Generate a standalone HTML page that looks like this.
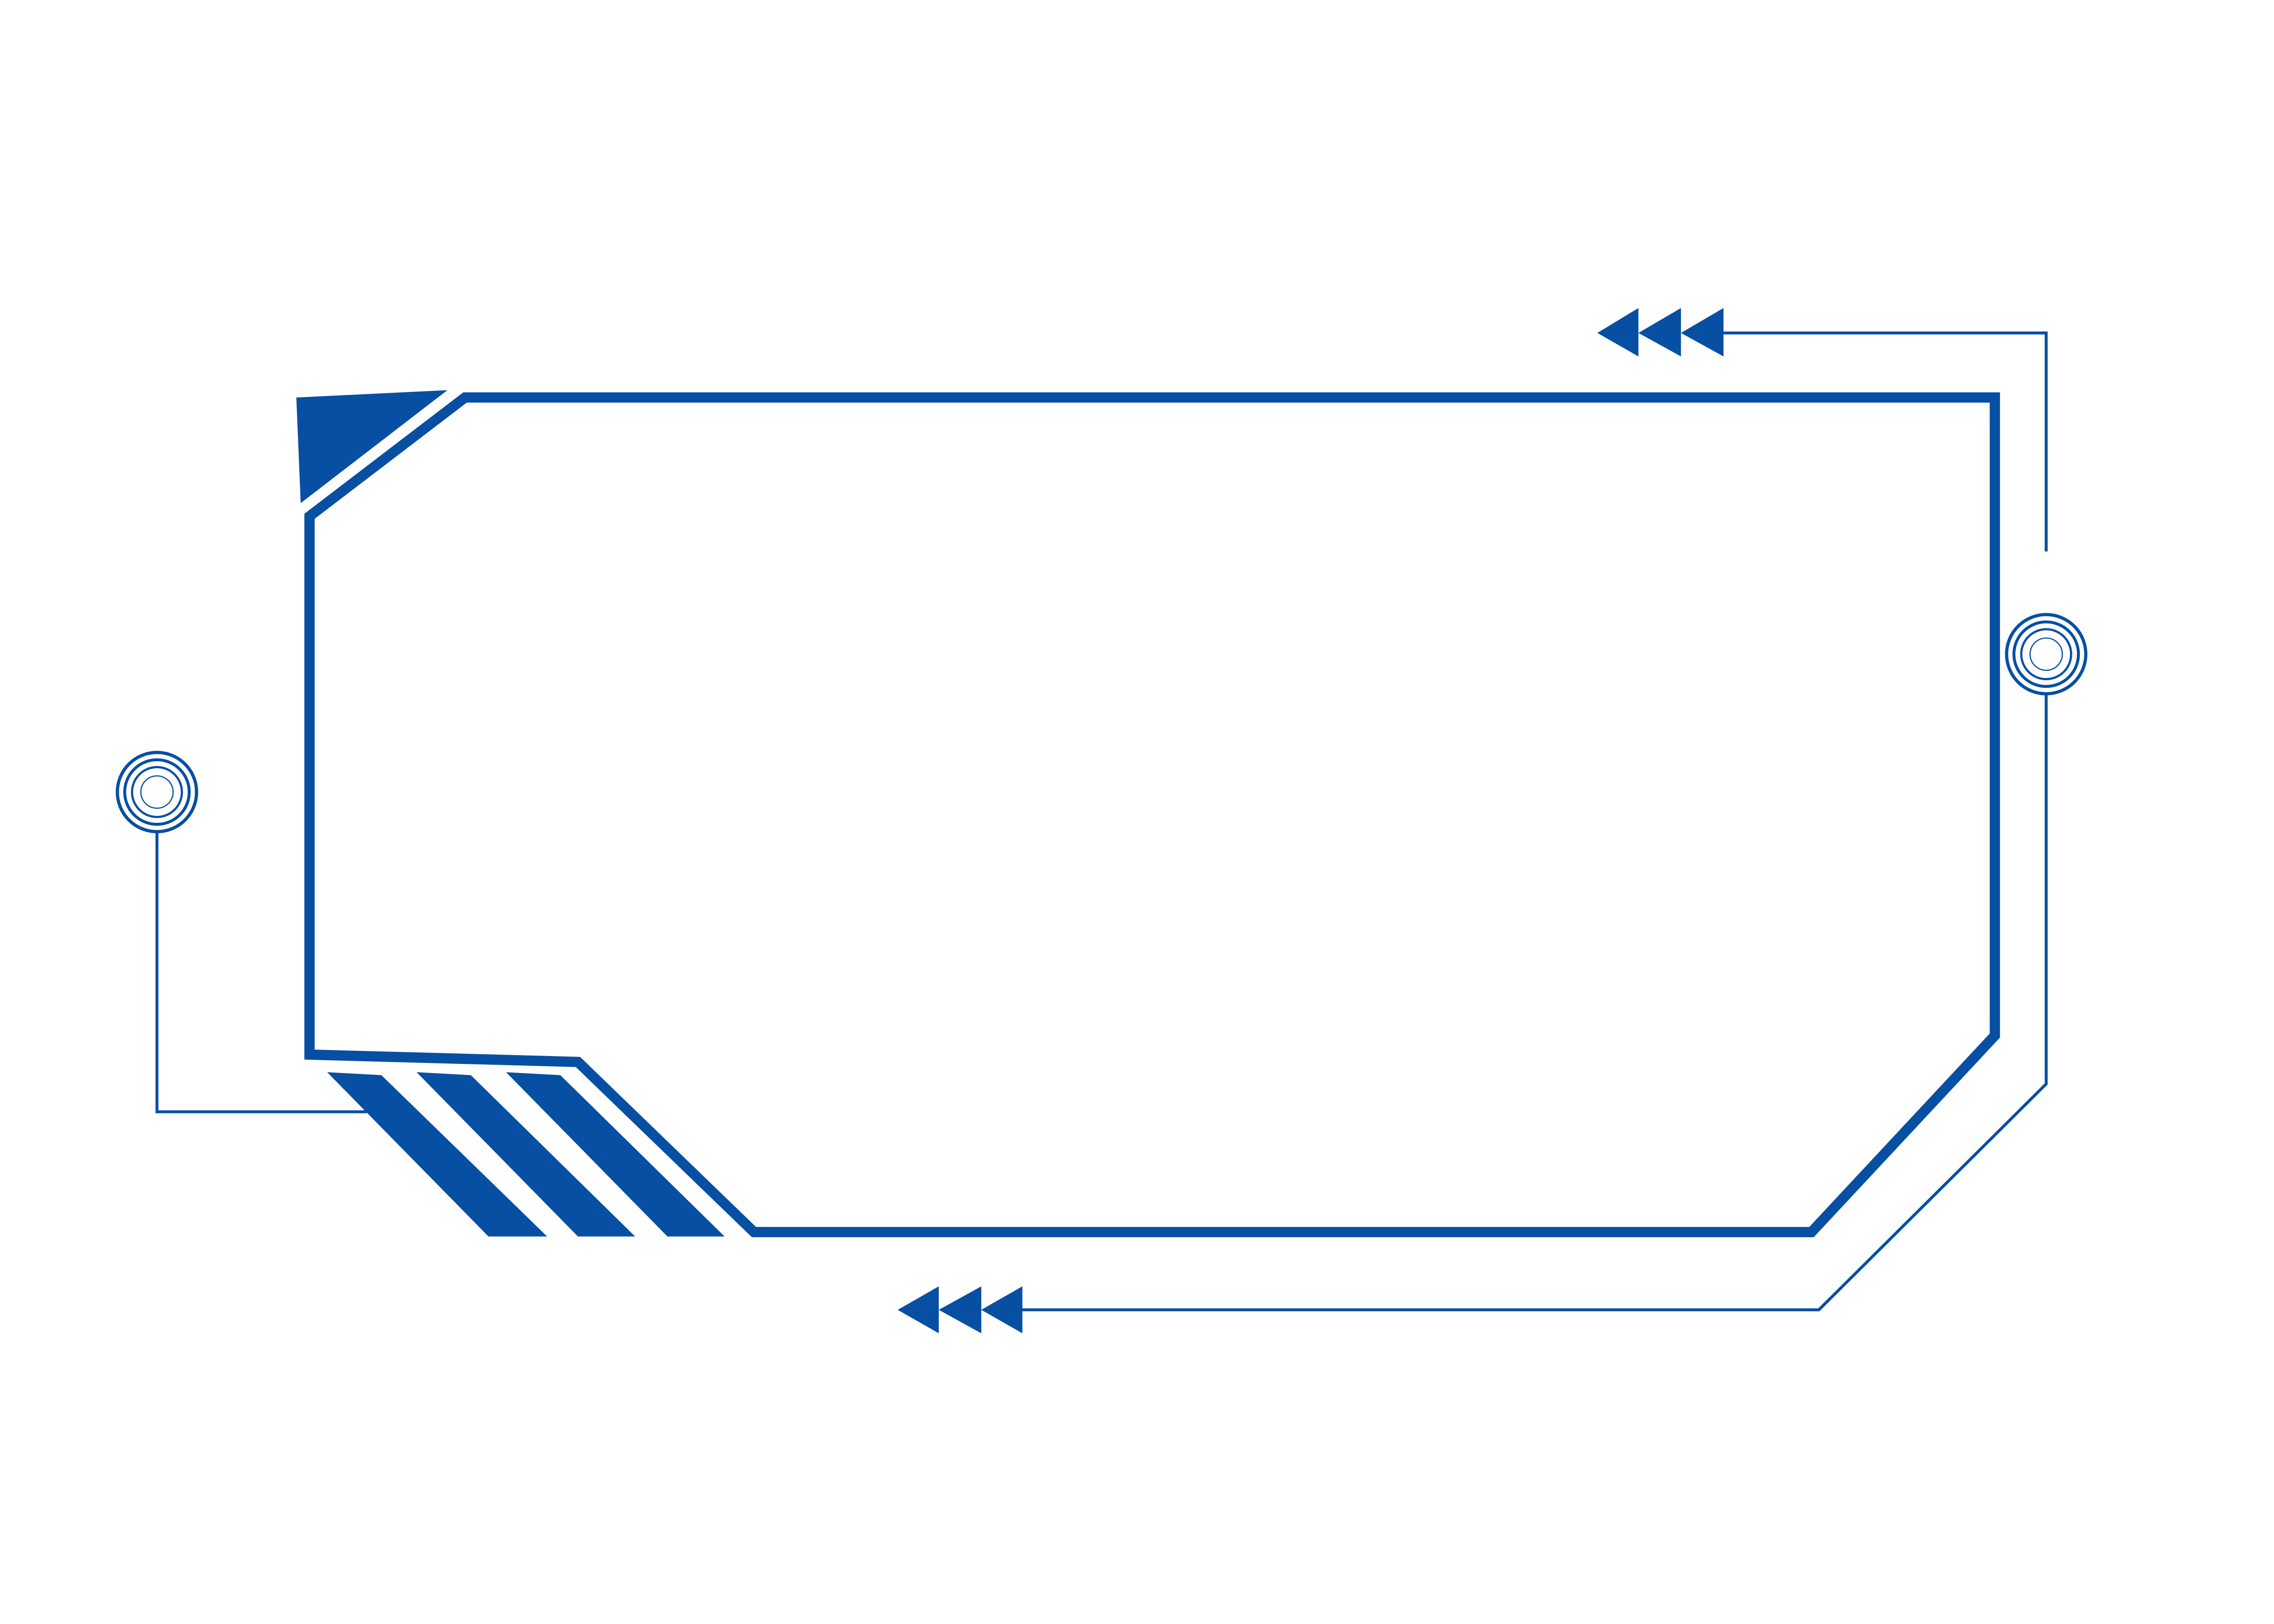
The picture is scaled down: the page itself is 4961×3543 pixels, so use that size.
<!DOCTYPE html>
<html><head><meta charset="utf-8"><style>
html,body{margin:0;padding:0;background:#fff}
svg{display:block}
</style></head><body>
<svg width="4961" height="3543" viewBox="0 0 1550.3 1107.2" xmlns="http://www.w3.org/2000/svg">
<g fill="#064fa3" stroke="none">
<polygon points="202,271 305,266 205,343"/>
<polygon points="223,731 260,733 373,843 333,843"/>
<polygon points="284,731 321,733 433,843 394,843"/>
<polygon points="345,731 382,733 494,843 455,843"/>
<polygon points="612,893 640,877 640,909"/>
<polygon points="640,893 669,877 669,909"/>
<polygon points="669,893 697,877 697,909"/>
<polygon points="1089,227 1117,210 1117,243"/>
<polygon points="1117,227 1146,210 1146,243"/>
<polygon points="1146,227 1175,210 1175,243"/>
</g>
<g fill="none" stroke="#064fa3">
<polygon stroke-width="7" points="317,271 1360,271 1360,706 1235,840 514,840 394,724 211,719 211,352"/>
<polyline stroke-width="2" points="107,567 107,758 250,758"/>
<polyline stroke-width="2" points="1395,474 1395,739 1240,893 697,893"/>
<polyline stroke-width="2" points="1175,227 1395,227 1395,376"/>
<circle cx="107" cy="540" r="27" stroke-width="2.2"/>
<circle cx="107" cy="540" r="22" stroke-width="2"/>
<circle cx="107" cy="540" r="17" stroke-width="1.5"/>
<circle cx="107" cy="540" r="11" stroke-width="0.8"/>
<circle cx="1395" cy="446" r="27" stroke-width="2.2"/>
<circle cx="1395" cy="446" r="22" stroke-width="2"/>
<circle cx="1395" cy="446" r="17" stroke-width="1.5"/>
<circle cx="1395" cy="446" r="11" stroke-width="0.8"/>
</g>
</svg>
</body></html>
